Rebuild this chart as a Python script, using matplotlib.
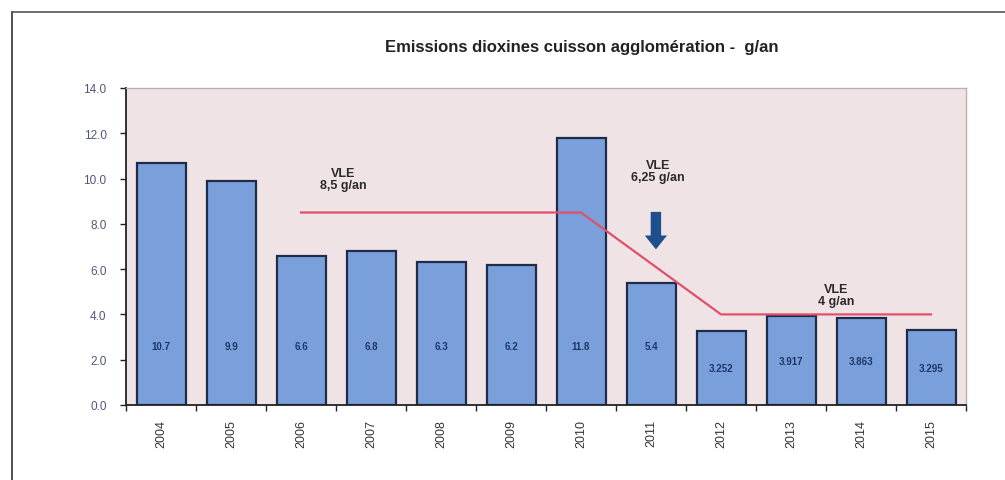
import matplotlib
matplotlib.use("Agg")
import matplotlib.pyplot as plt
from matplotlib.lines import Line2D

plt.rcParams['font.family'] = ['Liberation Sans', 'DejaVu Sans']

# emissions per year (g/an)
years = ['2004', '2005', '2006', '2007', '2008', '2009',
         '2010', '2011', '2012', '2013', '2014', '2015']
emissions = [10.7, 9.9, 6.6, 6.8, 6.3, 6.2, 11.8, 5.4, 3.252, 3.917, 3.863, 3.295]
value_labels = ['10.7', '9.9', '6.6', '6.8', '6.3', '6.2', '11.8', '5.4',
                '3.252', '3.917', '3.863', '3.295']

# VLE limit line (x in category index)
vle_x = [2, 6, 8, 11]
vle_y = [8.5, 8.5, 4, 4]

yticks = [0, 2, 4, 6, 8, 10, 12, 14]

fig = plt.figure(figsize=(10.05, 4.81), dpi=100)
fig.patch.set_facecolor('white')
ax = fig.add_axes([0.1254, 0.156, 0.8358, 0.659])
ax.set_facecolor('#efe3e6')

x = list(range(len(years)))
ax.bar(x, emissions, width=0.7, color='#7aa0dc', edgecolor='#1e2c48',
       linewidth=1.6, zorder=2)

for xi, v, lab in zip(x, emissions, value_labels):
    ax.text(xi, min(v / 2, 2.6), lab, ha='center', va='center',
            fontsize=7, fontweight='bold', color='#1f3565', zorder=4)

ax.plot(vle_x, vle_y, color='#e0506a', linewidth=1.6, zorder=3)

ax.annotate('', xy=(7.07, 6.75), xytext=(7.07, 8.65),
            arrowprops=dict(arrowstyle='simple,head_width=1.6,head_length=1.0,tail_width=0.75',
                            color='#1d4f8c', lw=0), zorder=5)

ann = dict(ha='center', va='center', fontsize=9, fontweight='bold',
           color='#2a2a2a', linespacing=1.0, zorder=5)
ax.text(2.6, 10.0, 'VLE\n8,5 g/an', **ann)
ax.text(7.1, 10.35, 'VLE\n6,25 g/an', **ann)
ax.text(9.64, 4.87, 'VLE\n4 g/an', **ann)

ax.set_xlim(-0.5, 11.5)
ax.set_ylim(0, 14)
ax.set_yticks(yticks)
ax.set_yticklabels([f'{t:.1f}' for t in yticks], fontsize=8.5, color='#55557a')
ax.set_xticks(x)
ax.set_xticklabels(years, rotation=90, fontsize=9, color='#333333')
ax.tick_params(axis='x', length=0, pad=10)
ax.set_xticks([i + 0.5 for i in range(-1, len(years))], minor=True)
ax.tick_params(axis='x', which='minor', length=4, width=1, color='#222222')
ax.tick_params(axis='y', length=4, width=1, color='#222222', pad=10)

for side in ('top', 'right'):
    ax.spines[side].set_color('#b8b0b2')
    ax.spines[side].set_linewidth(1.0)
for side in ('left', 'bottom'):
    ax.spines[side].set_color('#222222')
    ax.spines[side].set_linewidth(1.3)

fig.text(0.579, 0.902, 'Emissions dioxines cuisson agglomération -  g/an',
         ha='center', va='center', fontsize=12, fontweight='bold', color='#222222')

# outer frame
fig.add_artist(Line2D([0.012, 0.012], [0.0, 0.973], color='#333333', linewidth=1.2))
fig.add_artist(Line2D([0.012, 1.0], [0.973, 0.973], color='#555555', linewidth=1.2))

fig.savefig('out.png', dpi=100)
